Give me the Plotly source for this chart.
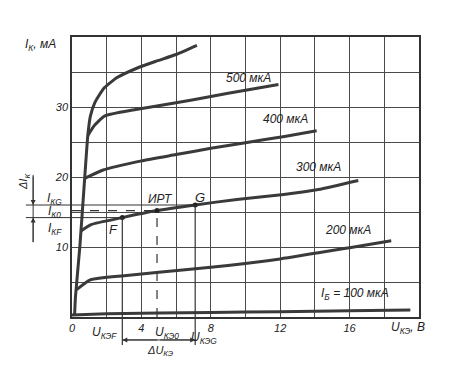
import plotly.graph_objects as go

# Collector characteristics I_K(U_KE) for several base currents (grid frame: V, mA)
u_600 = [0.15, 0.2, 0.45, 0.73, 0.91, 1.06, 1.31, 1.85, 2.6, 3.7, 4.8, 6.0, 7.2]
i_600 = [0.3, 2.9, 10.0, 19.8, 25.9, 28.7, 30.6, 32.7, 34.2, 35.5, 36.5, 37.5, 38.8]
u_500 = [0.91, 1.27, 1.87, 3.6, 6.0, 8.0, 10.0, 11.9]
i_500 = [25.9, 27.3, 28.7, 29.6, 30.6, 31.5, 32.4, 33.2]
u_400 = [0.73, 1.8, 4.0, 6.0, 8.0, 10.0, 12.25, 14.1]
i_400 = [19.8, 21.0, 22.3, 23.2, 24.1, 24.9, 25.8, 26.6]
u_300 = [0.52, 1.1, 2.9, 4.9, 7.1, 9.5, 12.2, 14.2, 16.5]
i_300 = [12.3, 13.2, 14.2, 15.2, 16.0, 16.8, 17.5, 18.2, 19.5]
u_200 = [0.27, 1.05, 3.0, 5.0, 8.0, 12.0, 16.0, 18.4]
i_200 = [3.9, 5.3, 5.9, 6.4, 7.1, 8.3, 9.9, 10.9]
u_100 = [0.0, 2.0, 8.0, 12.0, 16.0, 19.5]
i_100 = [0.3, 0.45, 0.65, 0.75, 0.9, 1.0]

# Operating points F, ИРТ (Q), G
pt_names = ["F", "ИРТ", "G"]
pt_u = [2.9, 4.9, 7.1]
pt_i = [14.2, 15.2, 16.0]

x_tickvals = [0, 2, 4, 6, 8, 10, 12, 14, 16, 18, 20]
x_ticktext = ["0", "", "4", "", "8", "", "12", "", "16", "", ""]
y_tickvals = [0, 5, 10, 15, 20, 25, 30, 35, 40]
y_ticktext = ["", "", "10", "", "20", "", "30", "", ""]

curve_labels = ["500 мкА", "400 мкА", "300 мкА", "200 мкА", "I<sub>Б</sub> = 100 мкА"]
label_u = [10.2, 12.3, 14.2, 15.9, 16.3]
label_i = [34.2, 28.3, 21.4, 12.4, 3.3]

LINE = "#3a3a3a"
GRID = "#4a4a4a"
FONT = "Liberation Sans"

fig = go.Figure()
for u, i in [(u_600, i_600), (u_500, i_500), (u_400, i_400), (u_300, i_300),
             (u_200, i_200), (u_100, i_100)]:
    fig.add_trace(go.Scatter(x=u, y=i, mode="lines",
                             line=dict(color=LINE, width=3, shape="spline", smoothing=0.5),
                             showlegend=False, hoverinfo="skip"))

fig.add_trace(go.Scatter(x=pt_u, y=pt_i, mode="markers",
                         marker=dict(color="#222", size=5), showlegend=False,
                         hoverinfo="skip"))

uF, uQ, uG = pt_u
iF, iQ, iG = pt_i
shapes = []
shapes.append(dict(type="line", xref="x", yref="y", x0=0, x1=uG, y0=iG, y1=iG,
                   line=dict(color="#333", width=1)))
shapes.append(dict(type="line", xref="x", yref="y", x0=0, x1=uF, y0=iF, y1=iF,
                   line=dict(color="#333", width=1)))
shapes.append(dict(type="line", xref="x", yref="y", x0=0, x1=uQ, y0=iQ, y1=iQ,
                   line=dict(color="#333", width=1.2, dash="dash")))
for lvl in (iG, iF):
    shapes.append(dict(type="line", xref="paper", yref="y", x0=-0.133, x1=0, y0=lvl, y1=lvl,
                       line=dict(color="#333", width=1)))
shapes.append(dict(type="line", xref="x", yref="y", x0=uQ, x1=uQ, y0=0, y1=iQ,
                   line=dict(color="#333", width=1.2, dash="dash")))
for uu, ii in ((uF, iF), (uG, iG)):
    shapes.append(dict(type="line", xref="x", yref="y", x0=uu, x1=uu, y0=0, y1=ii,
                       line=dict(color="#333", width=1.2)))
    shapes.append(dict(type="line", xref="x", yref="paper", x0=uu, x1=uu, y0=-0.1, y1=0,
                       line=dict(color="#333", width=1.2)))
shapes.append(dict(type="line", xref="paper", yref="y", x0=-0.112, x1=-0.112, y0=10.7, y1=20.3,
                   line=dict(color="#333", width=1)))
shapes.append(dict(type="line", xref="x", yref="paper", x0=uF, x1=uG, y0=-0.082, y1=-0.082,
                   line=dict(color="#333", width=1)))

ann = []
def txt(x, y, t, xref="x", yref="y", size=11, angle=0):
    ann.append(dict(x=x, y=y, xref=xref, yref=yref, text="<i>" + t + "</i>", showarrow=False,
                    xanchor="center", yanchor="middle",
                    font=dict(family=FONT, size=size, color="#222"), textangle=angle))

for t, xu, yi in zip(curve_labels, label_u, label_i):
    txt(xu, yi, t, size=12)
txt(5.1, 16.8, "ИРТ", size=12)
txt(7.4, 17.1, "G", size=13)
txt(2.4, 12.5, "F", size=13)
txt(-0.092, 0.972, "I<sub>К</sub>, мА", xref="paper", yref="paper", size=12)
txt(0.968, -0.04, "U<sub>КЭ</sub>, В", xref="paper", yref="paper", size=12)
txt(-0.05, 16.9, "I<sub>КG</sub>", xref="paper", size=12)
txt(-0.05, 14.95, "I<sub>К0</sub>", xref="paper", size=12)
txt(-0.05, 12.6, "I<sub>КF</sub>", xref="paper", size=12)
txt(-0.138, 19.3, "ΔI<sub>К</sub>", xref="paper", size=11, angle=-90)
txt(1.9, -0.058, "U<sub>КЭF</sub>", yref="paper", size=12)
txt(5.5, -0.058, "U<sub>КЭ0</sub>", yref="paper", size=12)
txt(7.6, -0.076, "U<sub>КЭG</sub>", yref="paper", size=12)
txt(5.1, -0.12, "ΔU<sub>КЭ</sub>", yref="paper", size=11)

mid_u = (uF + uG) / 2
for head in (uF, uG):
    ann.append(dict(x=head, y=-0.082, xref="x", yref="paper", ax=mid_u, ay=0,
                    axref="x", ayref="pixel", text="", showarrow=True,
                    arrowhead=2, arrowsize=1, arrowwidth=1, arrowcolor="#333"))
ann.append(dict(x=-0.112, y=iG, xref="paper", yref="y", ax=0, ay=-30, text="", showarrow=True,
                arrowhead=2, arrowsize=1, arrowwidth=1, arrowcolor="#333"))
ann.append(dict(x=-0.112, y=iF, xref="paper", yref="y", ax=0, ay=26, text="", showarrow=True,
                arrowhead=2, arrowsize=1, arrowwidth=1, arrowcolor="#333"))

fig.update_layout(
    width=443, height=359,
    margin=dict(l=64, r=32, t=29, b=50),
    paper_bgcolor="white", plot_bgcolor="white",
    shapes=shapes, annotations=ann,
    xaxis=dict(range=[0, 20], tickvals=x_tickvals, ticktext=x_ticktext,
               showgrid=True, gridcolor=GRID, gridwidth=1, zeroline=False,
               showline=True, linecolor="#333", linewidth=1.5, mirror=True,
               ticks="", tickfont=dict(family=FONT, size=11, color="#222", style="italic")),
    yaxis=dict(range=[0, 40], tickvals=y_tickvals, ticktext=y_ticktext,
               showgrid=True, gridcolor=GRID, gridwidth=1, zeroline=False,
               showline=True, linecolor="#333", linewidth=1.5, mirror=True,
               ticks="", tickfont=dict(family=FONT, size=11, color="#222", style="italic")),
)

fig.write_html("out.html", config={"displayModeBar": False})
